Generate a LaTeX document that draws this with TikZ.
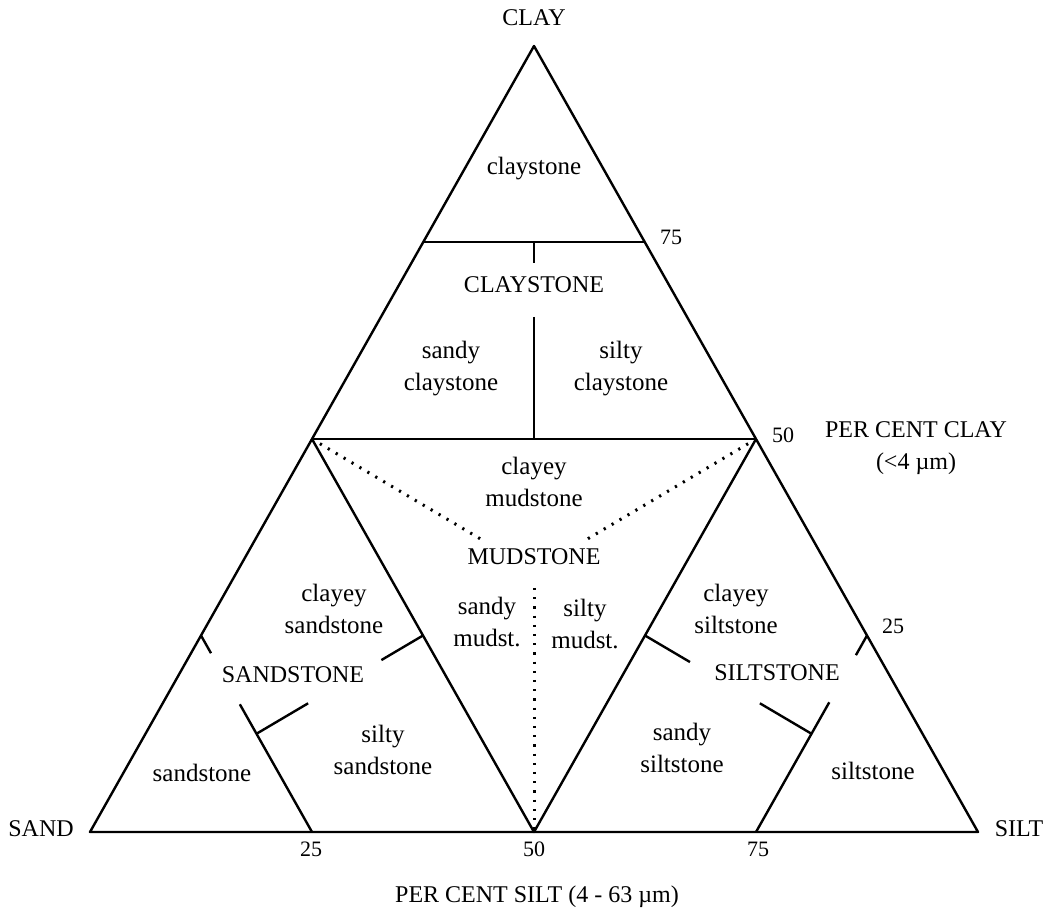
\documentclass[tikz,border=0pt]{standalone}
\usepackage{fontspec}
\setmainfont{Liberation Serif}
\usetikzlibrary{calc}
\begin{document}
\begin{tikzpicture}[x=1pt,y=-1pt,
  edge/.style={line width=2.4pt, line join=round},
  dots/.style={line width=3pt, dash pattern=on 2.2pt off 7pt},
  lbl/.style={font=\fontsize{24}{32}\selectfont, align=center, inner sep=0pt},
  lbs/.style={font=\fontsize{25}{32}\selectfont, align=center, inner sep=0pt},
  num/.style={font=\fontsize{22}{26}\selectfont, inner sep=0pt}]
\useasboundingbox (0,0) rectangle (1052,911);
% vertices
\coordinate (A) at (534,46);
\coordinate (S) at (90,832);
\coordinate (T) at (978,832);
\coordinate (c75L) at (423,242);
\coordinate (c75R) at (645,242);
\coordinate (c50L) at (312,439);
\coordinate (c50R) at (756,439);
\coordinate (B25) at (312,832);
\coordinate (B50) at (534,832);
\coordinate (B75) at (756,832);
\coordinate (L25) at ($(S)!0.5!(c50L)$);
\coordinate (ML) at ($(c50L)!0.5!(B50)$);
\coordinate (MR) at ($(c50R)!0.5!(B50)$);
\coordinate (R25) at ($(T)!0.5!(c50R)$);
\coordinate (Jc) at (534,242);
\coordinate (Bc) at (534,439);
\coordinate (Js) at ($(B25)!0.5!(L25)$);
\coordinate (Jt) at ($(B75)!0.5!(R25)$);
\coordinate (G) at (534,570.7);
% outline
\draw[edge] (A) -- (S) -- (T) -- cycle;
\draw[edge] (c75L) -- (c75R);
\draw[edge] (c50L) -- (c50R);
\draw[edge] (c50L) -- (B50) -- (c50R);
% claystone divisions
\draw[edge] (Jc) -- ($(Jc)!0.107!(Bc)$);
\draw[edge] ($(Jc)!0.38!(Bc)$) -- (Bc);
% sandstone divisions
\draw[edge] (B25) -- ($(B25)!0.65!(L25)$);
\draw[edge] ($(B25)!0.91!(L25)$) -- (L25);
\draw[edge] (Js) -- ($(Js)!0.31!(ML)$);
\draw[edge] ($(Js)!0.75!(ML)$) -- (ML);
% siltstone divisions
\draw[edge] (B75) -- ($(B75)!0.66!(R25)$);
\draw[edge] ($(B75)!0.9!(R25)$) -- (R25);
\draw[edge] (Jt) -- ($(Jt)!0.31!(MR)$);
\draw[edge] ($(Jt)!0.73!(MR)$) -- (MR);
% mudstone dotted divisions
\draw[dots] (c50L) -- ($(c50L)!0.78!(G)$);
\draw[dots] (c50R) -- ($(c50R)!0.77!(G)$);
\draw[dots] ($(G)!0.066!(B50)$) -- (B50);
% labels
\node[lbl] (clay) at (534,18) {CLAY};
\node[lbl] (sand) at (41,829) {SAND};
\node[lbl] (silt) at (1019,829) {SILT};
\node[lbs] (cst1) at (534,169) {claystone};
\node[lbl] (CST) at (534,285) {CLAYSTONE};
\node[lbs] (scst) at (451,369) {sandy\\claystone};
\node[lbs] (sicst) at (621,369) {silty\\claystone};
\node[lbs] (cmud) at (534,482) {clayey\\mudstone};
\node[lbl] (MUD) at (534,557) {MUDSTONE};
\node[lbs] (smud) at (487,622) {sandy\\mudst.};
\node[lbs] (simud) at (585,624) {silty\\mudst.};
\node[lbs] (csst) at (334,609) {clayey\\sandstone};
\node[lbl] (SST) at (293,675) {SANDSTONE};
\node[lbs] (sst1) at (202,773) {sandstone};
\node[lbs] (sisst) at (383,750) {silty\\sandstone};
\node[lbs] (cslt) at (736,609) {clayey\\siltstone};
\node[lbl] (SLT) at (777,673) {SILTSTONE};
\node[lbs] (sslt) at (682,748) {sandy\\siltstone};
\node[lbs] (slt1) at (873,771) {siltstone};
\node[lbl] (pcc) at (916,448) {PER CENT CLAY\\(<4 µm)};
\node[lbl] (pcs) at (537,897) {PER CENT SILT (4 - 63 µm)};
\node[num] (n75) at (671,237) {75};
\node[num] (n50) at (783,435) {50};
\node[num] (n25) at (893,626) {25};
\node[num] (b25) at (311,849) {25};
\node[num] (b50) at (534,849) {50};
\node[num] (b75) at (758,849) {75};
\end{tikzpicture}
\end{document}
